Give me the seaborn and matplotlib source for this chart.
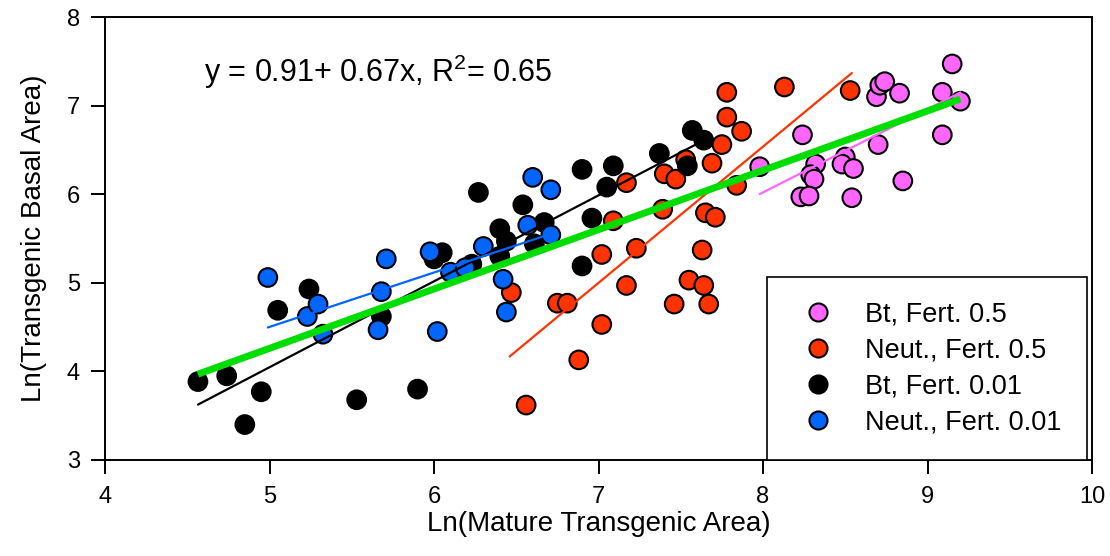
import numpy as np
import pandas as pd
import matplotlib
matplotlib.use("Agg")
import matplotlib.pyplot as plt
import seaborn as sns

# ---------------- data ----------------
groups = ["Bt, Fert. 0.5", "Neut., Fert. 0.5", "Bt, Fert. 0.01", "Neut., Fert. 0.01"]
colors = ["#FF66FF", "#FF3300", "#000000", "#0066FF"]

bt05_x = [7.98, 8.24, 8.32, 8.29, 8.31, 8.23, 8.28, 8.50, 8.48, 8.55, 8.54,
          8.70, 8.85, 9.09, 9.09, 9.20, 9.15, 8.69, 8.71, 8.74, 8.83]
bt05_y = [6.31, 6.67, 6.34, 6.22, 6.17, 5.97, 5.98, 6.42, 6.34, 6.29, 5.96,
          6.56, 6.15, 6.67, 7.15, 7.05, 7.47, 7.10, 7.23, 7.27, 7.14]

neut05_x = [6.47, 6.56, 6.75, 6.81, 6.88, 7.02, 7.02, 7.09, 7.17, 7.17, 7.23,
            7.40, 7.47, 7.39, 7.46, 7.53, 7.69, 7.75, 7.78, 7.78, 7.87, 7.84,
            7.65, 7.71, 7.63, 7.55, 7.64, 7.67, 8.13, 8.53]
neut05_y = [4.89, 3.62, 4.77, 4.77, 4.13, 4.53, 5.32, 5.70, 6.13, 4.97, 5.39,
            6.23, 6.17, 5.83, 4.76, 6.39, 6.35, 6.56, 7.15, 6.87, 6.71, 6.10,
            5.79, 5.74, 5.37, 5.03, 4.97, 4.76, 7.21, 7.17]

bt001_x = [4.565, 4.74, 4.85, 4.95, 5.05, 5.24, 5.53, 5.68, 5.90, 6.00, 6.05,
           6.23, 6.27, 6.40, 6.44, 6.40, 6.54, 6.61, 6.67, 6.90, 7.09, 7.05,
           6.96, 6.90, 7.37, 7.54, 7.57, 7.64]
bt001_y = [3.885, 3.95, 3.40, 3.77, 4.69, 4.93, 3.68, 4.62, 3.80, 5.27, 5.34,
           5.21, 6.02, 5.61, 5.47, 5.30, 5.88, 5.44, 5.68, 6.28, 6.32, 6.08,
           5.73, 5.19, 6.46, 6.32, 6.72, 6.61]

neut001_x = [4.99, 5.23, 5.295, 5.325, 5.68, 5.66, 5.71, 5.976, 6.02, 6.10,
             6.19, 6.30, 6.42, 6.44, 6.57, 6.71, 6.60, 6.71]
neut001_y = [5.06, 4.62, 4.76, 4.42, 4.90, 4.47, 5.27, 5.35, 4.45, 5.12,
             5.17, 5.41, 5.04, 4.67, 5.65, 5.54, 6.19, 6.05]

# fitted lines per group: intercept, slope, x-range
fit_intercept = [-1.50, -5.767, -0.803, 1.432]
fit_slope = [0.94, 1.538, 0.970, 0.614]
fit_xmin = [7.98, 6.46, 4.565, 4.99]
fit_xmax = [9.20, 8.54, 7.64, 6.71]

# overall fit
all_intercept = 0.91
all_slope = 0.67
all_xmin, all_xmax = 4.565, 9.20
equation = "y = 0.91+ 0.67x, R$^{2}$= 0.65"

x_ticks = [4, 5, 6, 7, 8, 9, 10]
y_ticks = [3, 4, 5, 6, 7, 8]
x_label = "Ln(Mature Transgenic Area)"
y_label = "Ln(Transgenic Basal Area)"

# ---------------- plotting ----------------
sns.set_style("ticks")
plt.rcParams["font.family"] = ["Liberation Sans", "DejaVu Sans"]
plt.rcParams["mathtext.fontset"] = "custom"
plt.rcParams["mathtext.rm"] = "Liberation Sans"
plt.rcParams["mathtext.it"] = "Liberation Sans:italic"
plt.rcParams["text.color"] = "black"
plt.rcParams["axes.labelcolor"] = "black"
plt.rcParams["xtick.color"] = "black"
plt.rcParams["ytick.color"] = "black"

xs_by_group = [bt05_x, neut05_x, bt001_x, neut001_x]
ys_by_group = [bt05_y, neut05_y, bt001_y, neut001_y]
draw_order = [1, 0, 2, 3]  # red first, then pink, black, blue on top
frames = []
for gi in draw_order:
    frames.append(pd.DataFrame({"x": xs_by_group[gi], "y": ys_by_group[gi],
                                "group": groups[gi]}))
df = pd.concat(frames, ignore_index=True)

fig = plt.figure(figsize=(11.10, 5.56), dpi=100)
ax = fig.add_axes([105 / 1110, 1 - 460 / 556, (1092 - 105) / 1110, (460 - 17) / 556])

sns.scatterplot(data=df, x="x", y="y", hue="group", hue_order=groups,
                palette=dict(zip(groups, colors)), s=180, edgecolor="black",
                linewidth=1.5, ax=ax, zorder=3)

for i in range(4):
    lx = np.array([fit_xmin[i], fit_xmax[i]])
    ly = fit_intercept[i] + fit_slope[i] * lx
    sns.lineplot(x=lx, y=ly, color=colors[i], linewidth=1.6, ax=ax,
                 legend=False, zorder=4)

gx = np.array([all_xmin, all_xmax])
gy = all_intercept + all_slope * gx
sns.lineplot(x=gx, y=gy, color="#00DD00", linewidth=5, ax=ax, legend=False,
             zorder=5, solid_capstyle="butt")

ax.text(4.6, 7.27, equation, fontsize=22, ha="left", va="baseline",
        color="black")

ax.set_xlim(4, 10)
ax.set_ylim(3, 8)
ax.set_xticks(x_ticks)
ax.set_yticks(y_ticks)
for sp in ax.spines.values():
    sp.set_visible(True)
    sp.set_linewidth(1.4)
    sp.set_color("black")
ax.set_xlabel(x_label, fontsize=20, labelpad=2, color="black")
ax.set_ylabel(y_label, fontsize=20, labelpad=14, color="black")

leg = ax.legend(loc="lower left", bbox_to_anchor=(0.671, 0.0, 0.324, 0.413),
                mode="expand", borderaxespad=0, fontsize=19.5, frameon=True,
                fancybox=False, edgecolor="black", framealpha=1,
                borderpad=0.9, labelspacing=0.37, handlelength=1.92,
                handletextpad=0.78)
leg.get_frame().set_linewidth(1.2)
for t in leg.get_texts():
    t.set_color("black")
for h, c in zip(leg.legend_handles, colors):
    h.set_markeredgecolor("black")
    h.set_markerfacecolor(c)
    h.set_markeredgewidth(1.5)
    h.set_markersize(13)

ax.tick_params(axis="both", which="major", direction="out", length=10,
               width=1.4, color="black", labelcolor="black")
ax.tick_params(axis="x", pad=9)
ax.tick_params(axis="y", pad=8)
for lab in ax.get_xticklabels() + ax.get_yticklabels():
    lab.set_fontsize(17)

fig.savefig("out.png", dpi=100)
